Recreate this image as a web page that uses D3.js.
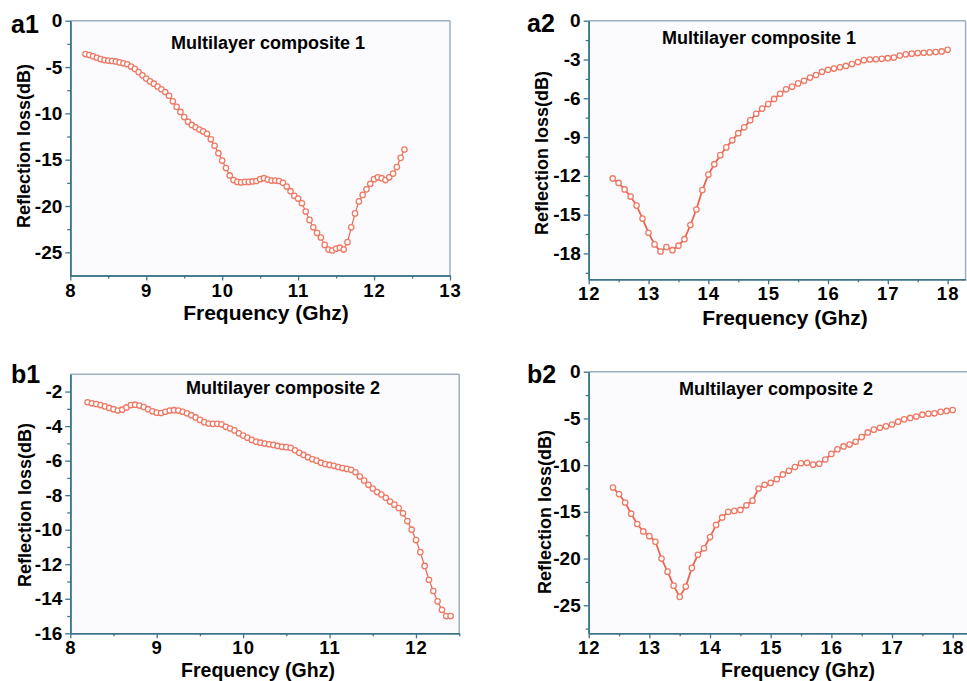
<!DOCTYPE html>
<html><head><meta charset="utf-8">
<script src="https://cdn.jsdelivr.net/npm/d3@7"></script>
<style>
body{margin:0;background:#fff}
svg{display:block}
text{font-family:"Liberation Sans",Arial,Helvetica,sans-serif;font-weight:bold;fill:#000}
</style>
</head><body>
<svg id="chart" width="967" height="681"></svg>
<script>
// ---------- DATA ----------
const a1Freq = [8.20,8.25,8.30,8.35,8.40,8.45,8.50,8.55,8.60,8.65,8.70,8.75,8.80,8.85,8.90,8.95,
  9.00,9.05,9.10,9.15,9.20,9.25,9.30,9.35,9.40,9.45,9.50,9.55,9.60,9.65,9.70,9.75,9.80,9.85,9.90,9.95,
  10.00,10.05,10.10,10.15,10.20,10.25,10.30,10.35,10.40,10.45,10.50,10.55,10.60,10.65,10.70,10.75,10.80,10.85,10.90,10.95,
  11.00,11.05,11.10,11.15,11.20,11.25,11.30,11.35,11.40,11.45,11.50,11.55,11.60,11.65,11.70,11.75,11.80,11.85,11.90,11.95,
  12.00,12.05,12.10,12.15,12.20,12.25,12.30,12.35,12.40];
const a1Loss = [-3.6,-3.7,-3.85,-4.0,-4.15,-4.25,-4.3,-4.35,-4.4,-4.5,-4.6,-4.7,-4.95,-5.2,-5.55,-5.9,
  -6.25,-6.55,-6.8,-7.1,-7.4,-7.7,-8.1,-8.7,-9.3,-9.85,-10.4,-10.9,-11.25,-11.5,-11.75,-11.95,-12.2,-12.8,-13.5,-14.3,
  -15.1,-15.9,-16.7,-17.2,-17.4,-17.45,-17.4,-17.4,-17.35,-17.3,-17.1,-17.0,-17.15,-17.25,-17.25,-17.3,-17.5,-17.9,-18.4,-18.9,
  -19.2,-19.7,-20.6,-21.5,-22.3,-22.9,-23.4,-24.2,-24.7,-24.8,-24.6,-24.5,-24.7,-23.9,-22.3,-20.8,-19.5,-18.8,-18.2,-17.6,
  -17.1,-16.9,-17.0,-17.2,-16.9,-16.5,-15.8,-14.8,-13.9];

const a2Freq = [12.4,12.5,12.6,12.7,12.8,12.9,13.0,13.1,13.2,13.3,13.4,13.5,13.6,13.7,13.8,13.9,
  14.0,14.1,14.2,14.3,14.4,14.5,14.6,14.7,14.8,14.9,15.0,15.1,15.2,15.3,15.4,15.5,15.6,15.7,15.8,15.9,
  16.0,16.1,16.2,16.3,16.4,16.5,16.6,16.7,16.8,16.9,17.0,17.1,17.2,17.3,17.4,17.5,17.6,17.7,17.8,17.9,18.0];
const a2Loss = [-12.2,-12.55,-13.05,-13.6,-14.3,-15.3,-16.4,-17.3,-17.85,-17.5,-17.75,-17.4,-16.9,-15.8,-14.6,-13.1,
  -11.9,-11.1,-10.4,-9.8,-9.25,-8.7,-8.25,-7.7,-7.2,-6.8,-6.45,-6.05,-5.65,-5.3,-5.1,-4.85,-4.65,-4.4,-4.2,-3.95,
  -3.8,-3.7,-3.6,-3.5,-3.35,-3.2,-3.05,-3.0,-2.98,-2.95,-2.9,-2.85,-2.7,-2.6,-2.55,-2.5,-2.48,-2.45,-2.42,-2.38,-2.25];

const b1Freq = [8.20,8.25,8.30,8.35,8.40,8.45,8.50,8.55,8.60,8.65,8.70,8.75,8.80,8.85,8.90,8.95,
  9.00,9.05,9.10,9.15,9.20,9.25,9.30,9.35,9.40,9.45,9.50,9.55,9.60,9.65,9.70,9.75,9.80,9.85,9.90,9.95,
  10.00,10.05,10.10,10.15,10.20,10.25,10.30,10.35,10.40,10.45,10.50,10.55,10.60,10.65,10.70,10.75,10.80,10.85,10.90,10.95,
  11.00,11.05,11.10,11.15,11.20,11.25,11.30,11.35,11.40,11.45,11.50,11.55,11.60,11.65,11.70,11.75,11.80,11.85,11.90,11.95,
  12.00,12.05,12.10,12.15,12.20,12.25,12.30,12.35,12.40];
const b1Loss = [-2.62,-2.68,-2.72,-2.78,-2.86,-2.95,-3.02,-3.1,-3.05,-2.92,-2.78,-2.76,-2.81,-2.9,-3.02,-3.14,
  -3.22,-3.24,-3.17,-3.1,-3.08,-3.1,-3.17,-3.26,-3.37,-3.5,-3.64,-3.77,-3.85,-3.87,-3.87,-3.9,-4.04,-4.14,-4.25,-4.42,
  -4.55,-4.67,-4.8,-4.9,-4.96,-5.01,-5.05,-5.09,-5.15,-5.2,-5.22,-5.26,-5.4,-5.55,-5.67,-5.8,-5.92,-6.0,-6.12,-6.2,
  -6.25,-6.3,-6.37,-6.43,-6.48,-6.53,-6.68,-6.92,-7.15,-7.4,-7.62,-7.82,-7.96,-8.15,-8.37,-8.55,-8.75,-9.05,-9.5,-10.0,
  -10.6,-11.3,-12.1,-12.9,-13.55,-14.15,-14.64,-15.0,-15.0];

const b2Freq = [12.4,12.5,12.6,12.7,12.8,12.9,13.0,13.1,13.2,13.3,13.4,13.5,13.6,13.7,13.8,13.9,
  14.0,14.1,14.2,14.3,14.4,14.5,14.6,14.7,14.8,14.9,15.0,15.1,15.2,15.3,15.4,15.5,15.6,15.7,15.8,15.9,
  16.0,16.1,16.2,16.3,16.4,16.5,16.6,16.7,16.8,16.9,17.0,17.1,17.2,17.3,17.4,17.5,17.6,17.7,17.8,17.9,18.0];
const b2Loss = [-12.4,-13.1,-14.0,-15.2,-16.3,-17.1,-17.6,-18.2,-20.0,-21.4,-22.9,-24.1,-23.0,-21.0,-19.6,-18.9,
  -17.7,-16.4,-15.6,-15.0,-14.9,-14.8,-14.3,-13.8,-12.5,-12.1,-11.9,-11.5,-11.0,-10.6,-10.2,-9.8,-9.75,-9.95,-9.85,-9.4,
  -8.8,-8.3,-8.0,-7.8,-7.5,-7.0,-6.5,-6.2,-6.0,-5.85,-5.65,-5.35,-5.1,-4.95,-4.8,-4.6,-4.5,-4.45,-4.3,-4.2,-4.1];

// tick labels
const xTicksLow = [8,9,10,11,12,13];
const xMinorLow = [8.5,9.5,10.5,11.5,12.5];
const xTicksHigh = [12,13,14,15,16,17,18];
const xMinorHigh = [12.5,13.5,14.5,15.5,16.5,17.5];
const a1YTicks = [0,-5,-10,-15,-20,-25];
const a1YMinor = [-2.5,-7.5,-12.5,-17.5,-22.5];
const a2YTicks = [0,-3,-6,-9,-12,-15,-18];
const a2YMinor = [-1.5,-4.5,-7.5,-10.5,-13.5,-16.5,-19.5];
const b1YTicks = [-2,-4,-6,-8,-10,-12,-14,-16];
const b1YMinor = [-3,-5,-7,-9,-11,-13,-15];
const b2YTicks = [0,-5,-10,-15,-20,-25];
const b2YMinor = [-2.5,-7.5,-12.5,-17.5,-22.5,-27.5];

const panelLabels = ["a1","a2","b1","b2"];
const panelTitles = ["Multilayer composite 1","Multilayer composite 1","Multilayer composite 2","Multilayer composite 2"];
const xTitle = "Frequency (Ghz)";
const yTitle = "Reflection loss(dB)";

// ---------- LAYOUT ----------
const panels = [
  {label:panelLabels[0], title:panelTitles[0], freq:a1Freq, loss:a1Loss,
   xDomain:[8,13], xRange:[70.3,450], yDomain:[-27.5,0], yRange:[275.5,20.7],
   xTicks:xTicksLow, xMinor:xMinorLow, yTicks:a1YTicks, yMinor:a1YMinor,
   labelPos:[11,33], titlePos:[268,49], yTitlePos:[24,146], xTitlePos:[266,320], xTitleSize:21, dense:true},
  {label:panelLabels[1], title:panelTitles[1], freq:a2Freq, loss:a2Loss,
   xDomain:[12,18.3], xRange:[588.7,965.6], yDomain:[-20,0], yRange:[279.3,20.7],
   xTicks:xTicksHigh, xMinor:xMinorHigh, yTicks:a2YTicks, yMinor:a2YMinor,
   labelPos:[527,32], titlePos:[759,44], yTitlePos:[542,153], xTitlePos:[785,325], xTitleSize:21, dense:false},
  {label:panelLabels[2], title:panelTitles[2], freq:b1Freq, loss:b1Loss,
   xDomain:[8,12.5], xRange:[70.3,459.2], yDomain:[-16,-1], yRange:[633.3,374.3],
   xTicks:xTicksLow.slice(0,5), xMinor:xMinorLow, yTicks:b1YTicks, yMinor:b1YMinor,
   labelPos:[11,383], titlePos:[283,394], yTitlePos:[25,505], xTitlePos:[258,677], xTitleSize:19.5, dense:true},
  {label:panelLabels[3], title:panelTitles[3], freq:b2Freq, loss:b2Loss,
   xDomain:[12,18.3], xRange:[588.7,970.9], yDomain:[-28,0], yRange:[633.3,371.7],
   xTicks:xTicksHigh, xMinor:xMinorHigh, yTicks:b2YTicks, yMinor:b2YMinor,
   labelPos:[527,383], titlePos:[776,395], yTitlePos:[545,512], xTitlePos:[798,677], xTitleSize:19.5, dense:false}
];

const axisColor = "#3c7489";
const frameColor = "#9eb0bd";
const lineColor = "#e9553d";
const markerColor = "#ee7a66";

const svg = d3.select("#chart");

panels.forEach(p => {
  const x = d3.scaleLinear().domain(p.xDomain).range(p.xRange);
  const y = d3.scaleLinear().domain(p.yDomain).range(p.yRange);
  const g = svg.append("g");
  const [x0,x1] = p.xRange, [yb,yt] = p.yRange;

  g.append("rect").attr("x",x0).attr("y",yt).attr("width",x1-x0).attr("height",yb-yt).attr("fill","#fbfbfd");

  g.append("line").attr("x1",x0).attr("x2",x1).attr("y1",yt).attr("y2",yt).attr("stroke",frameColor).attr("stroke-width",1.5);
  g.append("line").attr("x1",x1).attr("x2",x1).attr("y1",yt).attr("y2",yb).attr("stroke",frameColor).attr("stroke-width",1.5);

  const xa = g.append("g").attr("transform",`translate(0,${yb})`)
    .call(d3.axisBottom(x).tickValues(p.xTicks).tickFormat(d3.format("d")).tickSize(5).tickSizeOuter(0).tickPadding(3));
  g.append("g").attr("transform",`translate(0,${yb})`)
    .call(d3.axisBottom(x).tickValues(p.xMinor).tickFormat("").tickSize(3).tickSizeOuter(0));
  const ya = g.append("g").attr("transform",`translate(${x0},0)`)
    .call(d3.axisLeft(y).tickValues(p.yTicks).tickFormat(d => String(d)).tickSize(5).tickSizeOuter(0).tickPadding(3));
  g.append("g").attr("transform",`translate(${x0},0)`)
    .call(d3.axisLeft(y).tickValues(p.yMinor).tickFormat("").tickSize(3).tickSizeOuter(0));

  g.selectAll(".domain").attr("stroke",axisColor).attr("stroke-width",1.6);
  g.selectAll(".tick line").attr("stroke",axisColor).attr("stroke-width",1.3);
  g.selectAll(".tick text").attr("font-size",19).attr("font-family","Liberation Sans, Arial, sans-serif").attr("font-weight","bold").attr("fill","#000");
  xa.selectAll(".tick text").attr("font-size",18.5).attr("letter-spacing","1px");

  const data = p.freq.map((f,i)=>({f, v:p.loss[i]}));
  g.append("path").datum(data)
    .attr("d", d3.line().x(d=>x(d.f)).y(d=>y(d.v)))
    .attr("fill","none").attr("stroke",lineColor).attr("stroke-width",p.dense?1.2:1.8).attr("stroke-opacity",0.9);
  g.selectAll("circle.pt").data(data).join("circle").attr("class","pt")
    .attr("cx",d=>x(d.f)).attr("cy",d=>y(d.v)).attr("r",2.7)
    .attr("fill","#fff").attr("stroke",markerColor).attr("stroke-width",1.3);

  g.append("text").attr("x",p.labelPos[0]).attr("y",p.labelPos[1]).attr("font-size",25).text(p.label);
  g.append("text").attr("x",p.titlePos[0]).attr("y",p.titlePos[1]).attr("text-anchor","middle").attr("font-size",18).text(p.title);
  g.append("text").attr("transform",`translate(${p.yTitlePos[0]},${p.yTitlePos[1]}) rotate(-90)`)
    .attr("text-anchor","middle").attr("dominant-baseline","central").attr("font-size",18).text(yTitle);
  g.append("text").attr("x",p.xTitlePos[0]).attr("y",p.xTitlePos[1]).attr("text-anchor","middle").attr("font-size",p.xTitleSize).text(xTitle);
});
</script>
</body></html>
